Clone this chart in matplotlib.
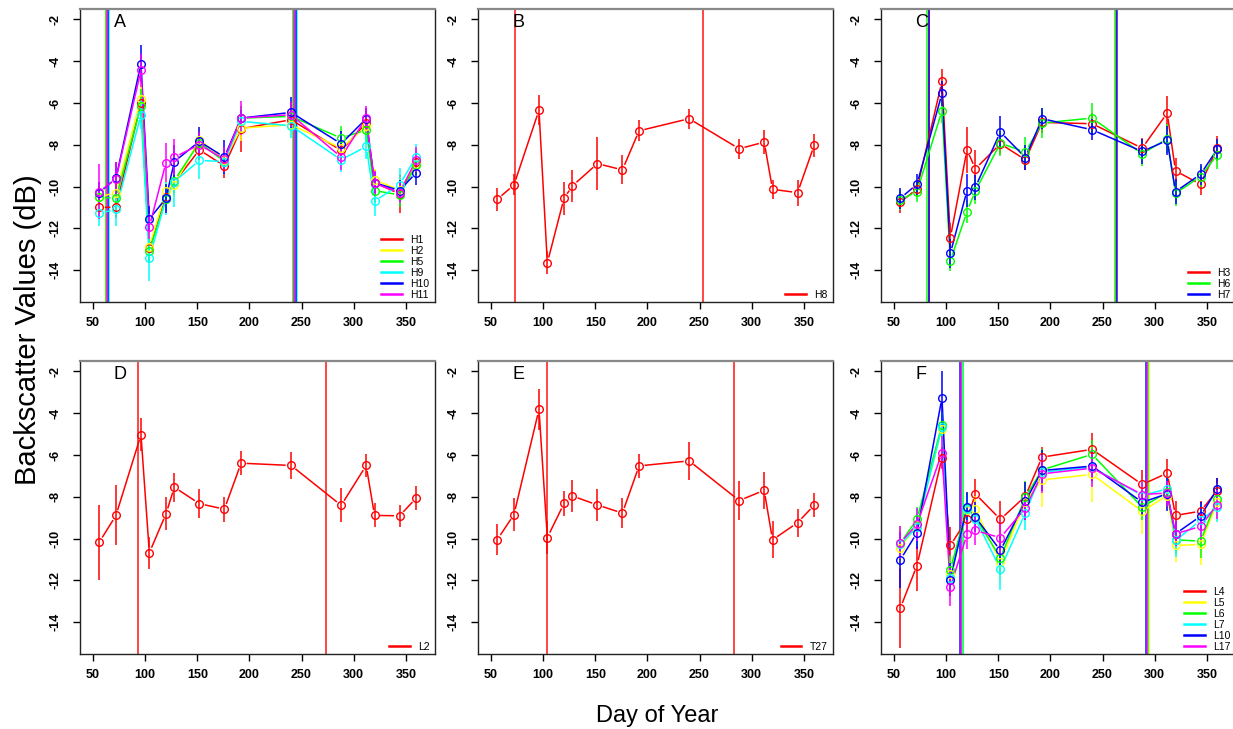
import numpy as np
import matplotlib
matplotlib.use("Agg")
import matplotlib.pyplot as plt

plt.rcParams["font.family"] = ["Liberation Sans", "DejaVu Sans"]
plt.rcParams["axes.unicode_minus"] = False

# ----------------------------------------------------------------------
#  Data (day of year, mean backscatter dB, error bar half-length)
# ----------------------------------------------------------------------
days = [56, 72, 96, 104, 120, 128, 152, 176, 192, 240, 288, 312, 320, 344, 360]

# panel A
a_names = ["H1", "H2", "H5", "H9", "H10", "H11"]
a_colors = ["#FF0000", "#FFFF00", "#00FF00", "#00FFFF", "#0000FF", "#FF00FF"]
a_vals = [
    [-10.99, -10.99, -6.0, -12.96, -10.48, -9.80, -8.24, -9.01, -7.23, -6.80, -8.27, -6.96, -9.81, -10.35, -8.80],
    [-10.48, -10.30, -5.79, -12.88, -10.20, -9.92, -7.76, -8.72, -7.20, -7.04, -8.16, -7.12, -9.68, -10.16, -8.90],
    [-10.51, -10.56, -6.13, -13.07, -10.60, -9.71, -7.89, -8.80, -6.72, -6.64, -7.68, -7.28, -10.19, -10.40, -8.96],
    [-11.28, -11.09, -6.56, -13.44, -10.56, -9.76, -8.75, -8.80, -6.88, -7.09, -8.72, -8.08, -10.69, -9.92, -8.56],
    [-10.29, -9.60, -4.11, -11.55, -10.56, -8.80, -7.84, -8.59, -6.72, -6.45, -7.95, -6.75, -9.81, -10.19, -9.33],
    [-10.24, -9.64, -4.43, -11.92, -8.85, -8.59, -8.00, -8.69, -6.72, -6.56, -8.59, -6.72, -9.84, -10.29, -8.72],
]
a_errs = [
    [0.5, 0.5, 0.6, 0.6, 0.5, 0.6, 0.5, 0.6, 1.1, 0.5, 0.6, 0.6, 0.6, 0.9, 0.5],
    [0.5, 0.6, 0.7, 0.6, 0.6, 0.6, 0.5, 0.5, 0.6, 0.5, 0.6, 0.6, 0.5, 0.6, 0.5],
    [0.5, 0.6, 0.8, 0.6, 0.6, 0.6, 0.5, 0.5, 0.6, 0.6, 0.6, 0.6, 0.6, 0.6, 0.5],
    [0.6, 0.8, 0.7, 1.1, 0.8, 1.2, 0.9, 0.6, 0.6, 0.6, 0.6, 0.6, 0.7, 0.8, 0.6],
    [0.5, 0.8, 0.9, 0.6, 0.7, 0.8, 0.7, 0.8, 0.4, 0.75, 0.6, 0.5, 0.5, 0.5, 0.6],
    [1.3, 0.8, 0.8, 0.6, 0.95, 0.85, 0.6, 0.6, 0.8, 0.6, 0.6, 0.6, 0.6, 0.5, 0.6],
]
a_vlines = [[62.7, 242.5], [62.2, 242.0], [62.0, 241.5], [65.3, 245.6], [64.0, 244.2], [63.2, 243.2]]

# panel B
b_names = ["H8"]
b_colors = ["#FF0000"]
b_vals = [[-10.61, -9.92, -6.34, -13.65, -10.56, -9.97, -8.90, -9.20, -7.33, -6.75, -8.19, -7.87, -10.13, -10.29, -8.02]]
b_errs = [[0.54, 0.5, 0.7, 0.55, 0.8, 0.76, 1.26, 0.69, 0.5, 0.48, 0.49, 0.58, 0.46, 0.62, 0.54]]
b_vlines = [[73.0, 253.0]]

# panel C
c_names = ["H3", "H6", "H7"]
c_colors = ["#FF0000", "#00FF00", "#0000FF"]
c_vals = [
    [-10.75, -10.11, -4.96, -12.45, -8.24, -9.15, -7.95, -8.72, -6.93, -6.99, -8.16, -6.48, -9.25, -9.89, -8.16],
    [-10.64, -10.24, -6.37, -13.55, -11.20, -10.21, -7.92, -8.35, -6.96, -6.72, -8.43, -7.71, -10.32, -9.52, -8.48],
    [-10.56, -9.89, -5.54, -13.20, -10.19, -10.03, -7.39, -8.61, -6.75, -7.28, -8.32, -7.79, -10.24, -9.41, -8.21],
]
c_errs = [
    [0.5, 0.4, 0.6, 0.7, 1.1, 0.9, 0.5, 0.5, 0.5, 0.5, 0.5, 0.8, 0.6, 0.5, 0.6],
    [0.5, 0.5, 0.6, 0.5, 0.55, 0.6, 0.6, 0.7, 0.7, 0.7, 0.6, 0.7, 0.6, 0.5, 0.7],
    [0.5, 0.5, 0.6, 0.7, 0.8, 0.6, 0.75, 0.6, 0.5, 0.5, 0.6, 0.7, 0.6, 0.5, 0.5],
]
c_vlines = [[83.6, 263.1], [82.0, 261.5], [84.0, 263.6]]

# panel D
d_names = ["L2"]
d_colors = ["#FF0000"]
d_vals = [[-10.17, -8.89, -5.03, -10.68, -8.81, -7.54, -8.33, -8.59, -6.39, -6.50, -8.41, -6.50, -8.89, -8.91, -8.06]]
d_errs = [[1.8, 1.44, 0.8, 0.76, 0.8, 0.69, 0.68, 0.6, 0.57, 0.63, 0.81, 0.53, 0.57, 0.54, 0.59]]
d_vlines = [[93.5, 273.0]]

# panel E
e_names = ["T27"]
e_colors = ["#FF0000"]
e_vals = [[-10.05, -8.85, -3.82, -9.95, -8.32, -7.96, -8.39, -8.78, -6.52, -6.28, -8.18, -7.69, -10.06, -9.24, -8.40]]
e_errs = [[0.75, 0.77, 0.97, 0.8, 0.6, 0.75, 0.75, 0.7, 0.59, 0.9, 0.95, 0.89, 0.89, 0.67, 0.59]]
e_vlines = [[104.0, 283.3]]

# panel F
f_names = ["L4", "L5", "L6", "L7", "L10", "L17"]
f_colors = ["#FF0000", "#FFFF00", "#00FF00", "#00FFFF", "#0000FF", "#FF00FF"]
f_vals = [
    [-13.33, -11.29, -6.13, -10.33, -9.08, -7.86, -9.08, -7.97, -6.10, -5.73, -7.41, -6.87, -8.89, -8.69, -7.70],
    [-10.44, -9.37, -4.74, -11.68, -8.65, -8.57, -11.13, -8.25, -7.19, -6.93, -8.69, -7.94, -10.33, -10.28, -8.25],
    [-10.22, -9.08, -4.54, -11.49, -8.53, -8.97, -10.92, -8.02, -6.71, -5.97, -8.49, -7.78, -10.06, -10.12, -8.10],
    [-10.28, -9.45, -4.66, -11.88, -8.57, -9.05, -11.45, -8.77, -6.82, -6.58, -7.94, -7.62, -10.09, -9.13, -8.50],
    [-11.02, -9.72, -3.26, -11.96, -8.49, -8.97, -10.57, -8.21, -6.74, -6.53, -8.26, -7.86, -9.77, -8.93, -7.62],
    [-10.20, -9.32, -5.89, -12.32, -9.80, -9.61, -9.96, -8.53, -6.90, -6.63, -7.89, -7.82, -9.77, -9.42, -8.37],
]
f_errs = [
    [1.9, 1.2, 0.5, 0.9, 0.6, 0.7, 0.9, 0.7, 0.5, 0.8, 0.7, 0.7, 0.7, 0.5, 0.6],
    [1.0, 0.8, 0.6, 0.8, 0.7, 0.6, 0.8, 0.9, 1.3, 1.3, 1.1, 0.7, 0.8, 1.0, 0.9],
    [0.8, 0.6, 0.6, 0.7, 0.7, 0.6, 0.8, 0.8, 1.0, 0.7, 0.6, 0.6, 0.7, 0.8, 0.6],
    [0.6, 0.9, 0.7, 0.7, 0.6, 0.6, 1.0, 0.8, 0.9, 0.8, 0.7, 0.6, 0.8, 0.8, 0.7],
    [1.35, 0.8, 1.3, 0.8, 0.7, 0.7, 0.7, 0.9, 1.0, 0.7, 0.6, 0.8, 0.6, 0.7, 0.5],
    [0.8, 0.8, 0.8, 0.9, 0.7, 0.7, 0.8, 0.6, 0.9, 0.9, 0.6, 0.6, 0.6, 0.7, 0.7],
]
f_vlines = [[114.3, 292.2], [116.2, 294.2], [115.7, 293.7], [115.0, 293.1], [113.6, 291.6], [114.0, 292.6]]

x_ticks = [50, 100, 150, 200, 250, 300, 350]
y_ticks = [-14, -12, -10, -8, -6, -4, -2]

W, H = 1233, 729


# ----------------------------------------------------------------------
#  Helpers
# ----------------------------------------------------------------------
def _gapped_line(ax, x, y, color, gap=5.5):
    """R type='b' style: segments between points with a gap around each point."""
    pts = ax.transData.transform(np.column_stack([x, y]))
    inv = ax.transData.inverted()
    xs, ys = [], []
    for p0, p1 in zip(pts[:-1], pts[1:]):
        d = p1 - p0
        length = np.hypot(*d)
        if length <= 2 * gap:
            continue
        u = d / length
        seg = inv.transform(np.array([p0 + u * gap, p1 - u * gap]))
        xs += [seg[0, 0], seg[1, 0], np.nan]
        ys += [seg[0, 1], seg[1, 1], np.nan]
    ax.plot(xs, ys, color=color, lw=1.1, solid_capstyle="butt", zorder=3)


def draw_panel(fig, rect, letter, names, colors, vals, errs, vlines):
    ax = fig.add_axes(rect)
    ax.set_xlim(37.5, 378)
    ax.set_ylim(-15.5, -1.5)

    for name, col, v, e, vl in zip(names, colors, vals, errs, vlines):
        for xv in vl:
            ax.axvline(xv, color=col, lw=1.2, alpha=0.85, zorder=2)
        _gapped_line(ax, days, v, col)
        ax.errorbar(days, v, yerr=e, fmt="none", ecolor=col, elinewidth=1.1,
                    capsize=0, zorder=4)
        ax.plot(days, v, "o", mfc="none", mec=col, ms=5.5, mew=1.0, zorder=5,
                label=name)

    ax.set_xticks(x_ticks)
    ax.set_yticks(y_ticks)
    ax.tick_params(direction="out", length=5, width=1, labelsize=9, pad=6)
    ax.tick_params(axis="y", labelrotation=90, pad=8)
    for lab in ax.get_xticklabels() + ax.get_yticklabels():
        lab.set_fontweight("bold")
    for lab in ax.get_yticklabels():
        lab.set_va("center")

    for side in ("left", "bottom", "right"):
        ax.spines[side].set_color("#222222")
        ax.spines[side].set_linewidth(1.0)
    ax.spines["top"].set_color("#888888")
    ax.spines["top"].set_linewidth(1.6)

    ax.text(0.113, 0.953, letter, transform=ax.transAxes, fontsize=13,
            ha="center", va="center")

    handles, labels = ax.get_legend_handles_labels()
    proxies = [plt.Line2D([], [], color=c, lw=1.8) for c in colors]
    ax.legend(proxies, labels, loc="lower right", bbox_to_anchor=(0.985, 0.005),
              frameon=False, fontsize=7.5, handlelength=2.0, handletextpad=0.8,
              labelspacing=0.1, borderpad=0.0, borderaxespad=0.0)
    return ax


# ----------------------------------------------------------------------
#  Figure
# ----------------------------------------------------------------------
fig = plt.figure(figsize=(W / 100, H / 100), dpi=100)

col_left = [80, 478, 881]
row_top = [9, 361]
pw, ph = 355, 292.5


def _rect(col, row):
    l = col_left[col] / W
    b = 1 - (row_top[row] + ph) / H
    return [l, b, pw / W, ph / H]


draw_panel(fig, _rect(0, 0), "A", a_names, a_colors, a_vals, a_errs, a_vlines)
draw_panel(fig, _rect(1, 0), "B", b_names, b_colors, b_vals, b_errs, b_vlines)
draw_panel(fig, _rect(2, 0), "C", c_names, c_colors, c_vals, c_errs, c_vlines)
draw_panel(fig, _rect(0, 1), "D", d_names, d_colors, d_vals, d_errs, d_vlines)
draw_panel(fig, _rect(1, 1), "E", e_names, e_colors, e_vals, e_errs, e_vlines)
draw_panel(fig, _rect(2, 1), "F", f_names, f_colors, f_vals, f_errs, f_vlines)

fig.text(28 / W, 1 - 330 / H, "Backscatter Values (dB)", rotation=90,
         ha="center", va="center", fontsize=21)
fig.text(657 / W, 1 - 716 / H, "Day of Year", ha="center", va="center",
         fontsize=17)

fig.savefig("out.png", dpi=100)
